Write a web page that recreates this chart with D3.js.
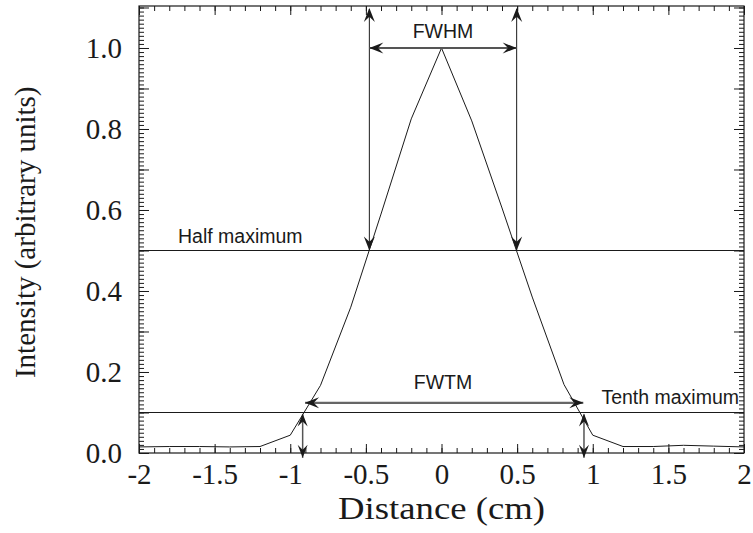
<!DOCTYPE html>
<html><head><meta charset="utf-8">
<script src="https://cdn.jsdelivr.net/npm/d3@7"></script>
<style>body{margin:0;background:#fff}</style>
</head><body>
<svg id="c" width="753" height="533"></svg>
<script>
// ---- data ----
const distance = [-2,-1.8,-1.6,-1.4,-1.2,-1.0,-0.8,-0.6,-0.4,-0.2,0,0.2,0.4,0.6,0.81,1.0,1.2,1.4,1.6,1.8,2.0];
const intensity = [0.015,0.016,0.016,0.015,0.016,0.044,0.167,0.36,0.59,0.825,1.0,0.82,0.605,0.385,0.169,0.044,0.016,0.016,0.019,0.017,0.015];
const xTickLabels = ["-2","-1.5","-1","-0.5","0","0.5","1","1.5","2"];
const yTickLabels = ["0.0","0.2","0.4","0.6","0.8","1.0"];
const halfMax = 0.5, tenthMax = 0.1;
const fwhmEdges = [-0.477, 0.497];
const fwtmArrowEdges = [-0.902, 0.9375];
const fwtmArrowLevel = 0.124;
const fwtmEdges = [-0.918, 0.942];

const svg = d3.select("#c");
const L=139, R=744, T=6, B=453;
const x = d3.scaleLinear().domain([-2,2]).range([L,R]);
const y = d3.scaleLinear().domain([0,1.1037]).range([B,T]);
const ink = "#1a1a1a";
const serif="'Liberation Serif','Times New Roman',serif";
const sans="'Liberation Sans',Arial,Helvetica,sans-serif";

// axes (inward ticks)
function ticks(vals, step){ return d3.range(vals[0], vals[1]+1e-9, step).map(v=>+v.toFixed(3)); }
const xMinor = ticks([-2,2],0.1), xMajor = ticks([-2,2],0.5);
const yMinor = ticks([0,1.1],0.01), yMajor = ticks([0,1.1],0.1);

svg.append("g").attr("transform",`translate(0,${B})`)
  .call(d3.axisBottom(x).tickValues(xMinor).tickSize(-5).tickFormat(""));
svg.append("g").attr("transform",`translate(0,${B})`)
  .call(d3.axisBottom(x).tickValues(xMajor).tickSize(-9).tickPadding(10)
    .tickFormat((d,i)=>xTickLabels[i]));
svg.append("g").attr("transform",`translate(0,${T})`)
  .call(d3.axisTop(x).tickValues(xMinor).tickSize(-5).tickFormat(""));
svg.append("g").attr("transform",`translate(0,${T})`)
  .call(d3.axisTop(x).tickValues(xMajor).tickSize(-9).tickFormat(""));
svg.append("g").attr("transform",`translate(${L},0)`)
  .call(d3.axisLeft(y).tickValues(yMinor).tickSize(-5).tickFormat(""));
svg.append("g").attr("transform",`translate(${L},0)`)
  .call(d3.axisLeft(y).tickValues(yMajor).tickSize(-10).tickPadding(17)
    .tickFormat(d=>{const k=Math.round(d*10); return k%2===0? yTickLabels[k/2] : "";}));
svg.append("g").attr("transform",`translate(${R},0)`)
  .call(d3.axisRight(y).tickValues(yMinor).tickSize(-5).tickFormat(""));
svg.append("g").attr("transform",`translate(${R},0)`)
  .call(d3.axisRight(y).tickValues(yMajor).tickSize(-10).tickFormat(""));
svg.selectAll(".domain").remove();
svg.selectAll(".tick line").attr("stroke",ink).attr("stroke-width",1);
svg.selectAll(".tick text").attr("fill",ink)
  .style("font-family",serif).style("font-size","29px");
svg.append("rect").attr("x",L).attr("y",T).attr("width",R-L).attr("height",B-T)
  .attr("fill","none").attr("stroke",ink).attr("stroke-width",1.2);

// curve
svg.append("path").datum(distance.map((d,i)=>[d,intensity[i]]))
  .attr("d", d3.line().x(d=>x(d[0])).y(d=>y(d[1])))
  .attr("fill","none").attr("stroke",ink).attr("stroke-width",1);

// level lines
[halfMax, tenthMax].forEach(v=>{
  svg.append("line").attr("x1",L).attr("x2",R).attr("y1",y(v)).attr("y2",y(v))
    .attr("stroke",ink).attr("stroke-width",1.2);
});

// arrow helper: barbed head at (tx,ty) pointing in direction angle
function head(tx,ty,ang,len=14,w=5.5){
  const p=[[0,0],[-len,-w],[-len*0.62,0],[-len,w]];
  svg.append("path").attr("d","M"+p.map(q=>q.join(",")).join("L")+"Z")
    .attr("transform",`translate(${tx},${ty}) rotate(${ang})`).attr("fill",ink);
}
function shaft(x1,y1,x2,y2,col,w){
  svg.append("line").attr("x1",x1).attr("y1",y1).attr("x2",x2).attr("y2",y2)
    .attr("stroke",col).attr("stroke-width",w);
}
// FWHM verticals
fwhmEdges.forEach(e=>{
  const px=x(e);
  shaft(px,T+3,px,y(halfMax),ink,1);
  head(px,T+2,-90);
  head(px,y(halfMax),90);
});
// FWHM horizontal
shaft(x(fwhmEdges[0]),y(1.0),x(fwhmEdges[1]),y(1.0),"#555",2);
head(x(fwhmEdges[0]),y(1.0),180);
head(x(fwhmEdges[1]),y(1.0),0);
// FWTM horizontal
shaft(x(fwtmArrowEdges[0]),y(fwtmArrowLevel),x(fwtmArrowEdges[1]),y(fwtmArrowLevel),"#666",2.2);
head(x(fwtmArrowEdges[0]),y(fwtmArrowLevel),180);
head(x(fwtmArrowEdges[1]),y(fwtmArrowLevel),0);
// small verticals
fwtmEdges.forEach(e=>{
  const px=x(e);
  shaft(px,y(tenthMax)+2,px,y(-0.012),"#555",1.5);
  head(px,y(tenthMax)+1,-90,13,5);
  head(px,y(-0.012),90,13,5);
});

// annotation text
function ann(t,px,py,anchor){
  svg.append("text").attr("x",px).attr("y",py).attr("text-anchor",anchor)
    .style("font-family",sans).style("font-size","19.5px").attr("fill",ink).text(t);
}
ann("FWHM", x(0.01), 38, "middle");
ann("Half maximum", 178, 243, "start");
ann("FWTM", x(0.01), 389, "middle");
ann("Tenth maximum", 739, 404, "end");

// axis titles
svg.append("text").attr("x",x(0)).attr("y",519).attr("text-anchor","middle")
  .attr("textLength",207).attr("lengthAdjust","spacingAndGlyphs")
  .style("font-family",serif).style("font-size","32px").attr("fill",ink).text("Distance (cm)");
svg.append("text").attr("transform",`translate(35,${y(0.545)}) rotate(-90)`).attr("text-anchor","middle")
  .style("font-family",serif).style("font-size","29px").attr("fill",ink).text("Intensity (arbitrary units)");
</script>
</body></html>
